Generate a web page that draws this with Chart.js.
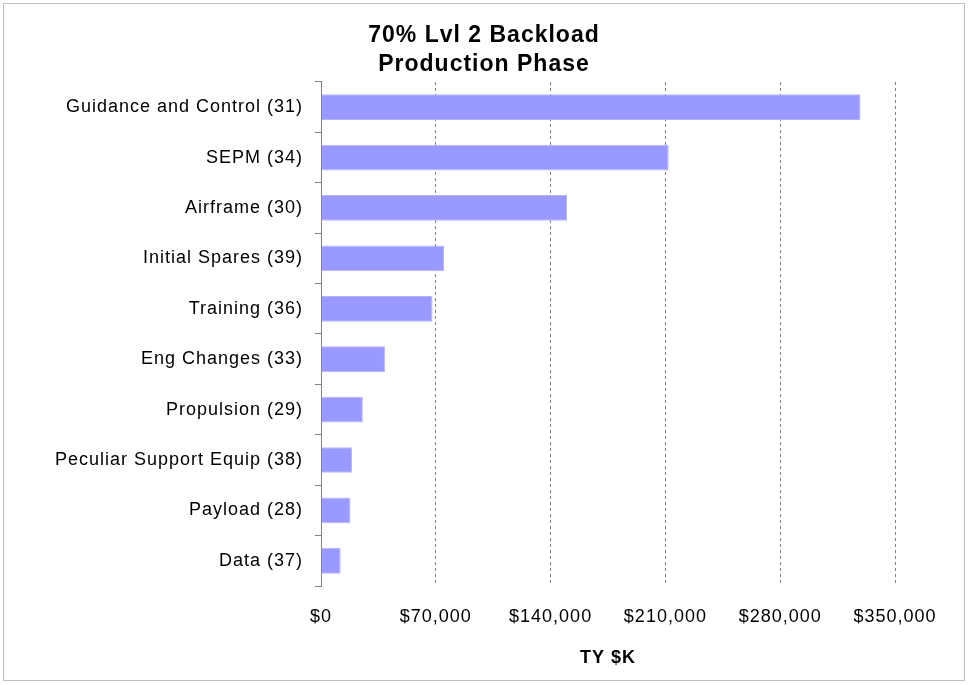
<!DOCTYPE html>
<html>
<head>
<meta charset="utf-8">
<script src="https://cdn.jsdelivr.net/npm/chart.js@4"></script>
<style>
  html, body { margin: 0; padding: 0; background: #fff; }
  #wrap { width: 968px; height: 685px; }
</style>
</head>
<body>
<div id="wrap"><canvas id="chart" width="968" height="685"></canvas></div>
<script>
const categories = [
  "Guidance and Control (31)",
  "SEPM (34)",
  "Airframe (30)",
  "Initial Spares (39)",
  "Training (36)",
  "Eng Changes (33)",
  "Propulsion (29)",
  "Peculiar Support Equip (38)",
  "Payload (28)",
  "Data (37)"
];
const costs = [329000, 212000, 150000, 75000, 68000, 39000, 25500, 19000, 18000, 12000];
const xTicks = [0, 70000, 140000, 210000, 280000, 350000];

const fontFamily = "'Liberation Sans', Arial, sans-serif";

// outer frame + a little letter spacing like the original export
const frame = {
  id: "frame",
  beforeInit(chart) { chart.ctx.letterSpacing = "1px"; },
  beforeDraw(chart) {
    const ctx = chart.ctx;
    ctx.letterSpacing = "1px";
    ctx.save();
    ctx.fillStyle = "#fff";
    ctx.fillRect(0, 0, chart.width, chart.height);
    ctx.strokeStyle = "#bfbfbf";
    ctx.lineWidth = 1;
    ctx.strokeRect(3.5, 3.5, 961, 677);
    ctx.restore();
  }
};

new Chart(document.getElementById("chart").getContext("2d"), {
  type: "bar",
  data: {
    labels: categories,
    datasets: [{
      data: costs,
      backgroundColor: "#9999ff",
      borderColor: "#b3b3ff",
      borderWidth: 1,
      barPercentage: 0.51,
      categoryPercentage: 1
    }]
  },
  options: {
    indexAxis: "y",
    responsive: false,
    animation: false,
    layout: { padding: { top: 6, left: 0, right: 0, bottom: 0 } },
    plugins: {
      legend: { display: false },
      tooltip: { enabled: false },
      title: {
        display: true,
        text: ["70% Lvl 2 Backload", "Production Phase"],
        color: "#000",
        font: { family: fontFamily, size: 23, weight: "bold", lineHeight: 1.26 },
        padding: { top: 15, bottom: 3 }
      }
    },
    scales: {
      x: {
        min: 0,
        max: 350000,
        afterBuildTicks(scale) { scale.ticks = xTicks.map(v => ({ value: v })); },
        afterFit(scale) { scale.height = 99; },
        grid: {
          color: "#808080",
          lineWidth: 1,
          drawTicks: false
        },
        border: { display: false, dash: [3, 3] },
        ticks: {
          color: "#000",
          padding: 20,
          maxRotation: 0,
          font: { family: fontFamily, size: 18 },
          callback: v => "$" + Number(v).toLocaleString("en-US")
        },
        title: {
          display: true,
          text: "TY $K",
          color: "#000",
          font: { family: fontFamily, size: 18, weight: "bold" },
          padding: { top: 0, bottom: 16 }
        }
      },
      y: {
        afterFit(scale) { scale.width = 321; },
        border: { display: true, color: "#808080", width: 1 },
        grid: {
          offset: true,
          drawOnChartArea: false,
          drawTicks: true,
          tickLength: 6,
          color: "#808080"
        },
        ticks: {
          color: "#000",
          padding: 12,
          font: { family: fontFamily, size: 18 }
        }
      },
      // empty right-hand gutter so the title stays centred on the whole canvas
      gutter: {
        type: "linear",
        position: "right",
        afterFit(scale) { scale.width = 73; },
        grid: { display: false },
        border: { display: false },
        ticks: { display: false }
      }
    }
  },
  plugins: [frame]
});
</script>
</body>
</html>
